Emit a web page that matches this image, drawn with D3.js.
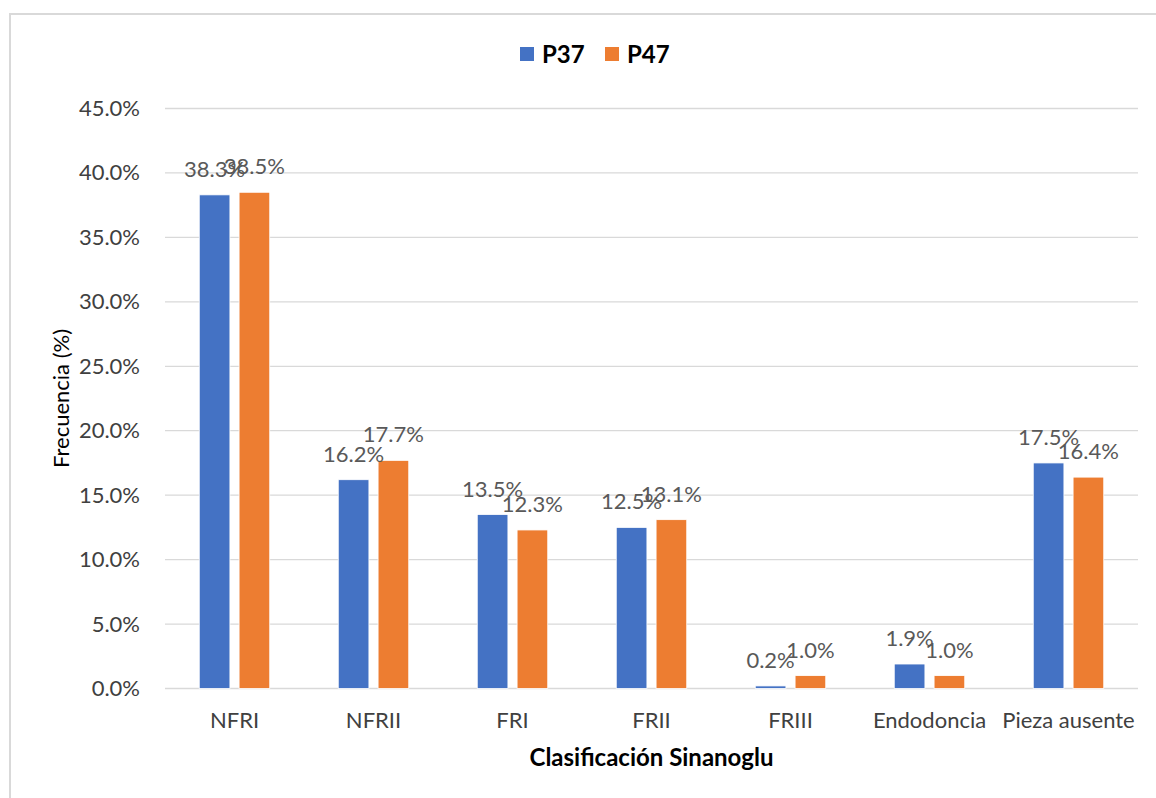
<!DOCTYPE html>
<html>
<head>
<meta charset="utf-8">
<script src="https://cdn.jsdelivr.net/npm/d3@7"></script>
<style>
  html, body { margin: 0; padding: 0; background: #ffffff; }
  svg { display: block; }
</style>
</head>
<body>
<svg id="chart" width="1156" height="798"></svg>
<script>
// Sinanoglu classification frequencies for teeth 37 and 47
const categories = ["NFRI", "NFRII", "FRI", "FRII", "FRIII", "Endodoncia", "Pieza ausente"];
const seriesNames = ["P37", "P47"];
const p37Values = [38.3, 16.2, 13.5, 12.5, 0.2, 1.9, 17.5];
const p47Values = [38.5, 17.7, 12.3, 13.1, 1.0, 1.0, 16.4];
const yTicks = [0, 5, 10, 15, 20, 25, 30, 35, 40, 45];
const seriesColors = ["#4472C4", "#ED7D31"];

const seriesValues = [p37Values, p47Values];
const rows = categories.map((c, i) => ({
  category: c,
  values: seriesNames.map((s, j) => ({ series: s, value: seriesValues[j][i] }))
}));

const FONT = "Lato, 'Liberation Sans', sans-serif";
const svg = d3.select("#chart");

// outer chart frame
svg.append("rect")
  .attr("x", 10).attr("y", 14)
  .attr("width", 1160).attr("height", 800)
  .attr("fill", "#ffffff")
  .attr("stroke", "#d9d9d9").attr("stroke-width", 2);

const plot = { left: 165, right: 1138, top: 108.5, bottom: 688.5 };

const x0 = d3.scaleBand().domain(categories).range([plot.left, plot.right]).padding(0);
const x1 = d3.scaleBand().domain(seriesNames).range([0, x0.bandwidth()])
  .paddingInner(0.23).paddingOuter(0.86);
const y = d3.scaleLinear().domain([0, 45]).range([plot.bottom, plot.top]);
const color = d3.scaleOrdinal().domain(seriesNames).range(seriesColors);

// horizontal gridlines
svg.append("g")
  .selectAll("line")
  .data(yTicks)
  .join("line")
  .attr("x1", plot.left).attr("x2", plot.right)
  .attr("y1", d => y(d)).attr("y2", d => y(d))
  .attr("stroke", "#d9d9d9").attr("stroke-width", 1.3);

// y axis labels
const yAxis = d3.axisLeft(y).tickValues(yTicks).tickSize(0).tickPadding(0)
  .tickFormat(d => d.toFixed(1) + "%");
const gy = svg.append("g").attr("transform", `translate(${plot.left - 25},0)`).call(yAxis);
gy.select(".domain").remove();
gy.selectAll("text")
  .attr("font-family", FONT).attr("font-size", 22).attr("fill", "#404040");

// x axis category labels
const xAxis = d3.axisBottom(x0).tickSize(0).tickPadding(0);
const gx = svg.append("g").attr("transform", `translate(0,${plot.bottom})`).call(xAxis);
gx.select(".domain").remove();
gx.selectAll("text")
  .attr("dy", null).attr("y", 39)
  .attr("font-family", FONT).attr("font-size", 22).attr("fill", "#404040");

// bars
const groups = svg.append("g")
  .selectAll("g")
  .data(rows)
  .join("g")
  .attr("transform", d => `translate(${x0(d.category)},0)`);

groups.selectAll("rect")
  .data(d => d.values)
  .join("rect")
  .attr("x", d => x1(d.series))
  .attr("width", x1.bandwidth())
  .attr("y", d => y(d.value))
  .attr("height", d => y(0) - y(d.value))
  .attr("fill", d => color(d.series))
  .attr("stroke", "#ffffff").attr("stroke-width", 0.8);

// value labels
groups.selectAll("text")
  .data(d => d.values)
  .join("text")
  .attr("x", d => x1(d.series) + x1.bandwidth() / 2)
  .attr("y", d => y(d.value) - 18)
  .attr("text-anchor", "middle")
  .attr("font-family", FONT).attr("font-size", 22).attr("fill", "#595959")
  .text(d => d.value.toFixed(1) + "%");

// axis titles
svg.append("text")
  .attr("transform", `translate(69,${(plot.top + plot.bottom) / 2}) rotate(-90)`)
  .attr("text-anchor", "middle")
  .attr("font-family", FONT).attr("font-size", 22).attr("fill", "#000000")
  .text("Frecuencia (%)");

svg.append("text")
  .attr("x", (plot.left + plot.right) / 2).attr("y", 766)
  .attr("text-anchor", "middle")
  .attr("font-family", FONT).attr("font-size", 24).attr("font-weight", "bold").attr("fill", "#000000")
  .text("Clasificación Sinanoglu");

// legend
const legendItems = [
  { name: seriesNames[0], sx: 520, tx: 542 },
  { name: seriesNames[1], sx: 605, tx: 627 }
];
const legend = svg.append("g");
legend.selectAll("rect")
  .data(legendItems)
  .join("rect")
  .attr("x", d => d.sx).attr("y", 47)
  .attr("width", 14).attr("height", 14)
  .attr("fill", d => color(d.name));
legend.selectAll("text")
  .data(legendItems)
  .join("text")
  .attr("x", d => d.tx).attr("y", 63)
  .attr("font-family", FONT).attr("font-size", 24).attr("font-weight", "bold").attr("fill", "#000000")
  .text(d => d.name);
</script>
</body>
</html>
